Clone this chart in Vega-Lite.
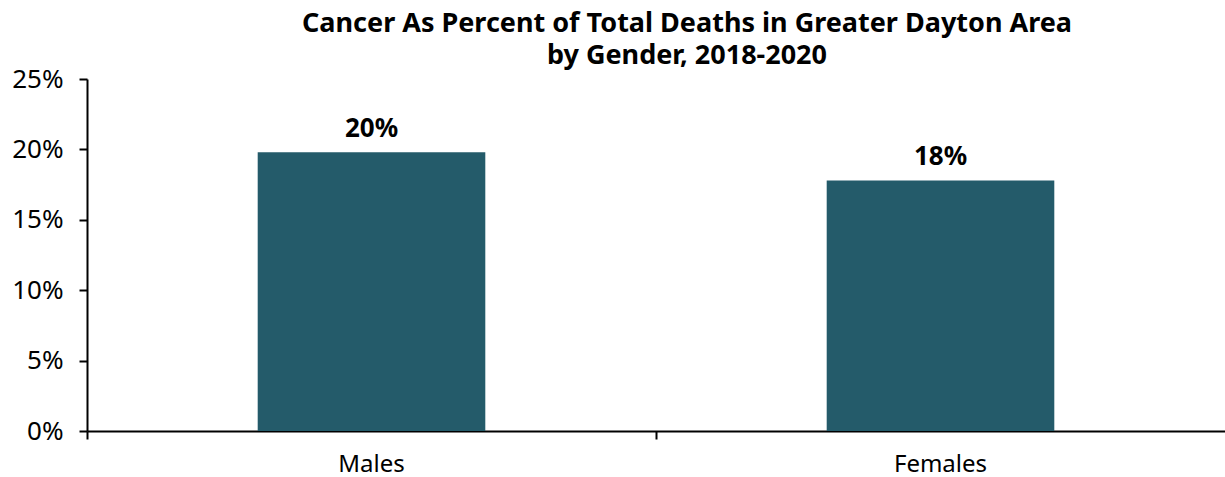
{
  "$schema": "https://vega.github.io/schema/vega-lite/v6.json",
  "autosize": "none",
  "padding": {"left": 87, "top": 79, "right": 0, "bottom": 46},
  "width": 1138,
  "height": 352,
  "background": "white",
  "title": {
    "text": ["Cancer As Percent of Total Deaths in Greater Dayton Area", "by Gender, 2018-2020"],
    "font": "Noto Sans",
    "fontSize": 27,
    "fontWeight": "bold",
    "color": "#000000",
    "anchor": "middle",
    "dx": 31,
    "offset": -4,
    "lineHeight": 32
  },
  "data": {
    "values": [
      {"gender": "Males", "pct": 0.198},
      {"gender": "Females", "pct": 0.178}
    ]
  },
  "config": {
    "view": {"stroke": null},
    "axis": {"labelFont": "Noto Sans", "labelFontSize": 24, "labelColor": "#000000", "domainColor": "#000000", "tickColor": "#000000", "domainWidth": 2, "tickWidth": 2, "grid": false}
  },
  "resolve": {"axis": {"x": "independent"}},
  "layer": [
    {
      "mark": {"type": "bar", "color": "#245B6A"},
      "encoding": {
        "x": {
          "field": "gender",
          "type": "nominal",
          "sort": null,
          "scale": {"paddingInner": 0.6, "paddingOuter": 0.3},
          "axis": {"title": null, "labelAngle": 0, "ticks": false, "labelPadding": 21, "orient": "bottom"}
        },
        "y": {
          "field": "pct",
          "type": "quantitative",
          "scale": {"domain": [0, 0.25], "nice": false},
          "axis": {"title": null, "format": ".0%", "values": [0, 0.05, 0.1, 0.15, 0.2, 0.25], "tickSize": 8, "labelPadding": 16, "labelFontSize": 26}
        }
      }
    },
    {
      "mark": {"type": "text", "font": "Noto Sans", "fontSize": 26, "fontWeight": "bold", "color": "#000000", "baseline": "bottom", "dy": -10},
      "encoding": {
        "x": {
          "field": "gender",
          "type": "nominal",
          "sort": null,
          "axis": {"title": null, "labels": false, "domain": false, "tickSize": 8, "bandPosition": -0.75, "orient": "bottom"}
        },
        "y": {"field": "pct", "type": "quantitative"},
        "text": {"field": "pct", "type": "quantitative", "format": ".0%"}
      }
    }
  ]
}
